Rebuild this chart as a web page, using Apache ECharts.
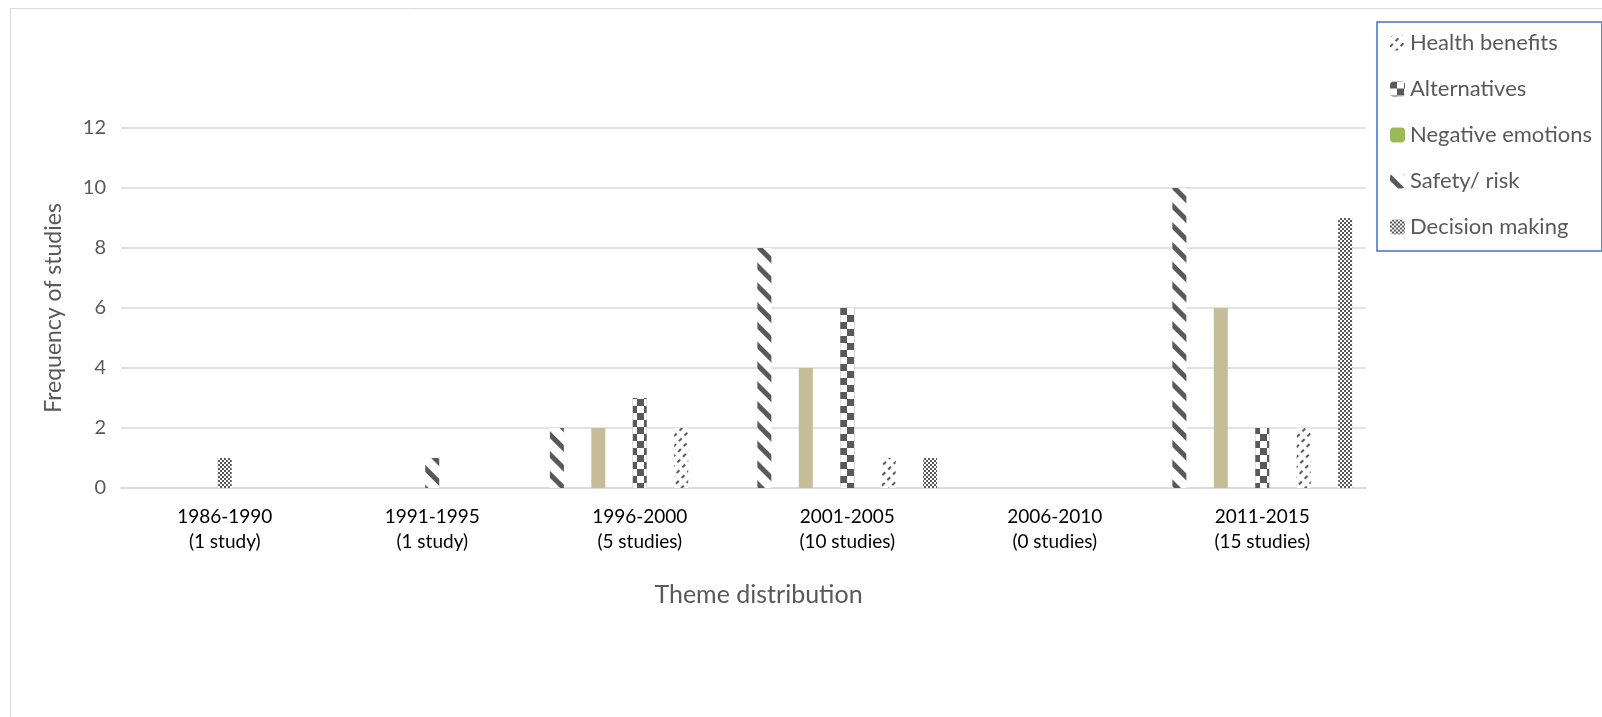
<!DOCTYPE html>
<html>
<head>
<meta charset="utf-8">
<script src="https://cdn.jsdelivr.net/npm/echarts@6/dist/echarts.min.js"></script>
<style>
html,body{margin:0;padding:0;background:#fff;}
#chart{width:1602px;height:717px;}
</style>
</head>
<body>
<div id="chart"></div>
<script>
// ---- data ----
const categories = ['1986-1990\n(1 study)', '1991-1995\n(1 study)', '1996-2000\n(5 studies)', '2001-2005\n(10 studies)', '2006-2010\n(0 studies)', '2011-2015\n(15 studies)'];
const safetyRisk       = [0, 0, 2, 8, 0, 10];
const negativeEmotions = [0, 0, 2, 4, 0, 6];
const alternatives     = [0, 0, 3, 6, 0, 2];
const healthBenefits   = [0, 0, 2, 1, 0, 2];
const decisionMaking   = [0, 0, 0, 1, 0, 9];
// single-study periods, drawn in the middle slot of their group
const decisionMakingSingle = [1, 0, 0, 0, 0, 0];
const safetyRiskSingle     = [0, 1, 0, 0, 0, 0];
const yTicks = [0, 2, 4, 6, 8, 10, 12];
const legendOrder = ['Health benefits', 'Alternatives', 'Negative emotions', 'Safety/ risk', 'Decision making'];

// ---- styles ----
const DARK = '#595959';
const FONT = 'Lato';
const safetyDecal = {symbol: 'rect', symbolSize: 1, color: DARK, dashArrayX: [1, 0], dashArrayY: [4.5, 8.5], rotation: Math.PI / 4};
const altDecal = {symbol: 'rect', symbolSize: 1, color: '#ffffff', dashArrayX: [[7, 7], [0, 7, 7, 0]], dashArrayY: [7, 0]};
const decisionDecal = {symbol: 'rect', symbolSize: 1, color: DARK, dashArrayX: [[2, 2], [0, 2, 2, 0]], dashArrayY: [2, 0]};
const healthDecal = {symbol: 'rect', symbolSize: 1, color: DARK, dashArrayX: [[4, 4]], dashArrayY: [1.5, 5], rotation: -Math.PI / 4};

const chart = echarts.init(document.getElementById('chart'));
const BW = 14;
chart.setOption({
  animation: false,
  backgroundColor: '#ffffff',
  textStyle: {fontFamily: FONT},
  graphic: [{
    type: 'rect', left: 8, top: 6, silent: true,
    shape: {width: 1620, height: 730},
    style: {fill: 'none', stroke: '#D9D9D9', lineWidth: 1}
  }],
  legend: {
    orient: 'vertical', left: 1377, top: 22,
    padding: [9, 10, 12, 13],
    itemWidth: 15, itemHeight: 15, itemGap: 22,
    borderColor: '#4472C4', borderWidth: 1.5,
    data: legendOrder,
    textStyle: {fontFamily: FONT, fontSize: 22, color: DARK, lineHeight: 24}
  },
  grid: {left: 121, right: 236, top: 128, bottom: 229},
  xAxis: {
    type: 'category', data: categories,
    name: 'Theme distribution', nameLocation: 'middle', nameGap: 94,
    nameTextStyle: {fontFamily: FONT, fontSize: 25, color: DARK, padding: [0, 0, 0, 30]},
    axisLine: {lineStyle: {color: '#D9D9D9', width: 1.5}},
    axisTick: {show: false},
    axisLabel: {interval: 0, fontFamily: FONT, fontSize: 19, lineHeight: 25, color: '#000', margin: 16}
  },
  yAxis: {
    type: 'value', min: yTicks[0], max: yTicks[yTicks.length - 1], interval: 2,
    name: 'Frequency of studies', nameLocation: 'middle', nameGap: 56,
    nameTextStyle: {fontFamily: FONT, fontSize: 23, color: DARK},
    axisLine: {show: false}, axisTick: {show: false},
    axisLabel: {fontFamily: FONT, fontSize: 20, color: DARK, margin: 15},
    splitLine: {lineStyle: {color: '#D9D9D9', width: 1.5}}
  },
  series: [
    {name: 'Safety/ risk', type: 'bar', barWidth: BW, barGap: '196%', data: safetyRisk,
     itemStyle: {color: '#ffffff', decal: safetyDecal}},
    {name: 'Negative emotions', type: 'bar', barWidth: BW, barGap: '196%',
     data: negativeEmotions.map(v => ({value: v, itemStyle: {color: '#C4BD97'}})),
     itemStyle: {color: '#9BBB59'}},
    {name: 'Alternatives', type: 'bar', barWidth: BW, barGap: '196%', stack: 'mid', data: alternatives,
     itemStyle: {color: DARK, decal: altDecal}},
    {name: 'Health benefits', type: 'bar', barWidth: BW, barGap: '196%', data: healthBenefits,
     itemStyle: {color: '#ffffff', decal: healthDecal}},
    {name: 'Decision making', type: 'bar', barWidth: BW, barGap: '196%', data: decisionMaking,
     itemStyle: {color: '#ffffff', decal: decisionDecal}},
    {name: 'Decision making', type: 'bar', barWidth: BW, barGap: '196%', stack: 'mid', data: decisionMakingSingle,
     itemStyle: {color: '#ffffff', decal: decisionDecal}},
    {name: 'Safety/ risk', type: 'bar', barWidth: BW, barGap: '196%', stack: 'mid', data: safetyRiskSingle,
     itemStyle: {color: '#ffffff', decal: safetyDecal}}
  ]
});
</script>
</body>
</html>
